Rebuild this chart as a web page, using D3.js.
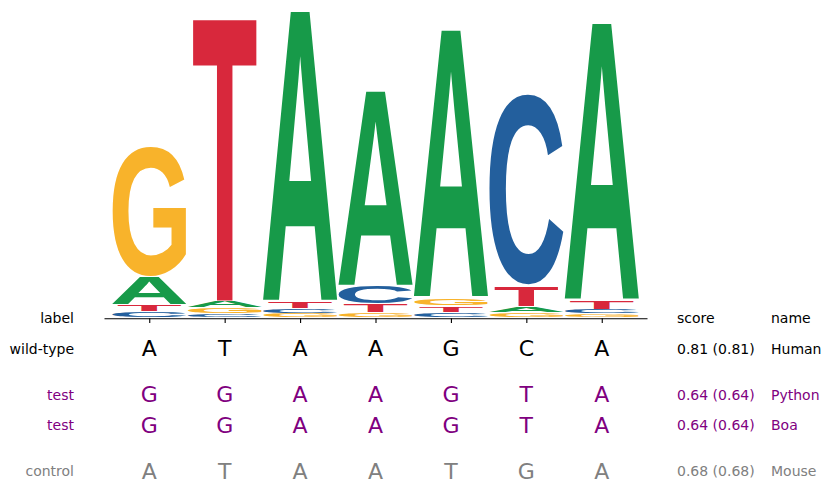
<!DOCTYPE html>
<html>
<head>
<meta charset="utf-8">
<script src="https://cdn.jsdelivr.net/npm/d3@7"></script>
<style>
  body { margin: 0; background: #fff; }
  text { font-family: 'DejaVu Sans', sans-serif; }
  text.glyph { font-family: 'Liberation Sans', Arial, sans-serif; }
</style>
</head>
<body>
<div id="logo"></div>
<script>
//chart size
var width = 830, height = 492;

//logo data (bits per letter at each position)
var positions = [0, 1, 2, 3, 4, 5, 6];
var bases = ['A', 'C', 'G', 'T'];
var heightA = [0.179, 0.048, 1.888, 1.268, 1.740, 0.039, 1.800];
var heightC = [0.039, 0.025, 0.030, 0.116, 0.035, 1.245, 0.029];
var heightG = [0.852, 0.039, 0.028, 0.035, 0.052, 0.035, 0.026];
var heightT = [0.047, 1.826, 0.045, 0.052, 0.042, 0.132, 0.058];

//table data
var rowLabels = ['wild-type', 'test', 'test', 'control'];
var rowSeqs = ['ATAAGCA', 'GGAAGTA', 'GGAAGTA', 'ATAATGA'];
var rowScores = [0.81, 0.64, 0.64, 0.68];
var rowNames = ['Human', 'Python', 'Boa', 'Mouse'];
var rowColors = ['black', 'purple', 'purple', 'gray'];

var baseColor = {A: '#179a49', C: '#235f9d', G: '#f8b32b', T: '#d8283c'};
var baseWidth = {A: 0.98, C: 0.98, G: 0.97, T: 0.84};
var heights = {A: heightA, C: heightC, G: heightG, T: heightT};

var svg = d3.select('#logo')
    .append('svg')
    .attr('width', width)
    .attr('height', height);

var x = d3.scaleLinear().domain([-0.6, 6.6]).range([104, 647]);
var y = d3.scaleLinear().domain([0, 2]).range([317.8, 7.8]);

//stack letters smallest at bottom
var stacks = [];
positions.forEach(function (p) {
    var col = bases.map(function (b) { return {base: b, pos: p, value: heights[b][p]}; });
    col.sort(function (a, b) { return a.value - b.value; });
    var floor = 0;
    col.forEach(function (d) {
        d.y0 = floor;
        d.y1 = floor + d.value;
        floor = d.y1;
        stacks.push(d);
    });
});

//find glyph ink bounds by drawing each letter on a canvas and scanning pixels
var fs = 200;
var cv = document.createElement('canvas');
cv.width = 400; cv.height = 400;
var ctx = cv.getContext('2d');
var ink = {};
bases.forEach(function (b) {
    ctx.clearRect(0, 0, 400, 400);
    ctx.font = "bold " + fs + "px 'Liberation Sans'";
    ctx.fillStyle = '#000';
    ctx.fillText(b, 100, 300);
    var px = ctx.getImageData(0, 0, 400, 400).data;
    var x0 = 400, x1 = 0, y0 = 400, y1 = 0;
    for (var j = 0; j < 400; j++) {
        for (var i = 0; i < 400; i++) {
            if (px[(j * 400 + i) * 4 + 3] > 127) {
                if (i < x0) x0 = i;
                if (i > x1) x1 = i;
                if (j < y0) y0 = j;
                if (j > y1) y1 = j;
            }
        }
    }
    ink[b] = {l: 100 - x0, r: x1 + 1 - 100, a: 300 - y0, d: y1 + 1 - 300};
});

var logoGroup = svg.append('g').attr('class', 'logo-group');

logoGroup.selectAll('text.glyph')
    .data(stacks)
    .enter()
    .append('text')
    .attr('class', 'glyph')
    .attr('font-size', fs)
    .attr('font-weight', 'bold')
    .attr('fill', function (d) { return baseColor[d.base]; })
    .attr('transform', function (d) {
        var g = ink[d.base];
        var top = y(d.y1), bot = y(d.y0);
        var h = bot - top;
        var pad = 0.5 + 0.005 * h;
        top += pad; bot -= pad;
        var w = x(baseWidth[d.base]) - x(0);
        var left = x(d.pos) - w / 2;
        var sx = w / (g.l + g.r), sy = Math.max(bot - top, 0.1) / (g.a + g.d);
        return 'translate(' + left + ',' + top + ') scale(' + sx + ',' + sy + ') translate(' + g.l + ',' + g.a + ')';
    })
    .text(function (d) { return d.base; });

//bottom axis
var xAxis = svg.append('g')
    .attr('class', 'axis axis--x')
    .attr('transform', 'translate(0,318.3)')
    .call(d3.axisBottom(x).tickValues(positions).tickSize(4.8).tickSizeOuter(0).tickFormat(''));
xAxis.select('.domain').attr('stroke', '#000').attr('stroke-width', 1.1);
xAxis.selectAll('.tick line').attr('stroke', '#000').attr('stroke-width', 1.1);

//table rows
var row = d3.scaleLinear().domain([0, 10]).range([318, 471]);
var rowSlots = [2, 5, 7, 10];

var header = svg.append('g').attr('class', 'header').attr('font-size', 14);
header.append('text').attr('x', 74).attr('y', row(0)).attr('text-anchor', 'end')
    .attr('dominant-baseline', 'central').text('label');
header.append('text').attr('x', 677).attr('y', row(0))
    .attr('dominant-baseline', 'central').text('score');
header.append('text').attr('x', 771).attr('y', row(0))
    .attr('dominant-baseline', 'central').text('name');

var rows = svg.selectAll('g.row')
    .data(rowLabels)
    .enter()
    .append('g')
    .attr('class', 'row')
    .attr('fill', function (d, i) { return rowColors[i]; })
    .attr('transform', function (d, i) { return 'translate(0,' + row(rowSlots[i]) + ')'; });

rows.append('text')
    .attr('x', 74)
    .attr('text-anchor', 'end')
    .attr('dominant-baseline', 'central')
    .attr('font-size', 14)
    .text(function (d) { return d; });

rows.selectAll('text.seq')
    .data(function (d, i) { return rowSeqs[i].split(''); })
    .enter()
    .append('text')
    .attr('class', 'seq')
    .attr('x', function (d, j) { return x(positions[j]); })
    .attr('text-anchor', 'middle')
    .attr('dominant-baseline', 'central')
    .attr('font-size', 22)
    .text(function (d) { return d; });

rows.append('text')
    .attr('x', 677)
    .attr('dominant-baseline', 'central')
    .attr('font-size', 14)
    .text(function (d, i) { return rowScores[i].toFixed(2) + ' (' + rowScores[i].toFixed(2) + ')'; });

rows.append('text')
    .attr('x', 771)
    .attr('dominant-baseline', 'central')
    .attr('font-size', 14)
    .text(function (d, i) { return rowNames[i]; });
</script>
</body>
</html>
